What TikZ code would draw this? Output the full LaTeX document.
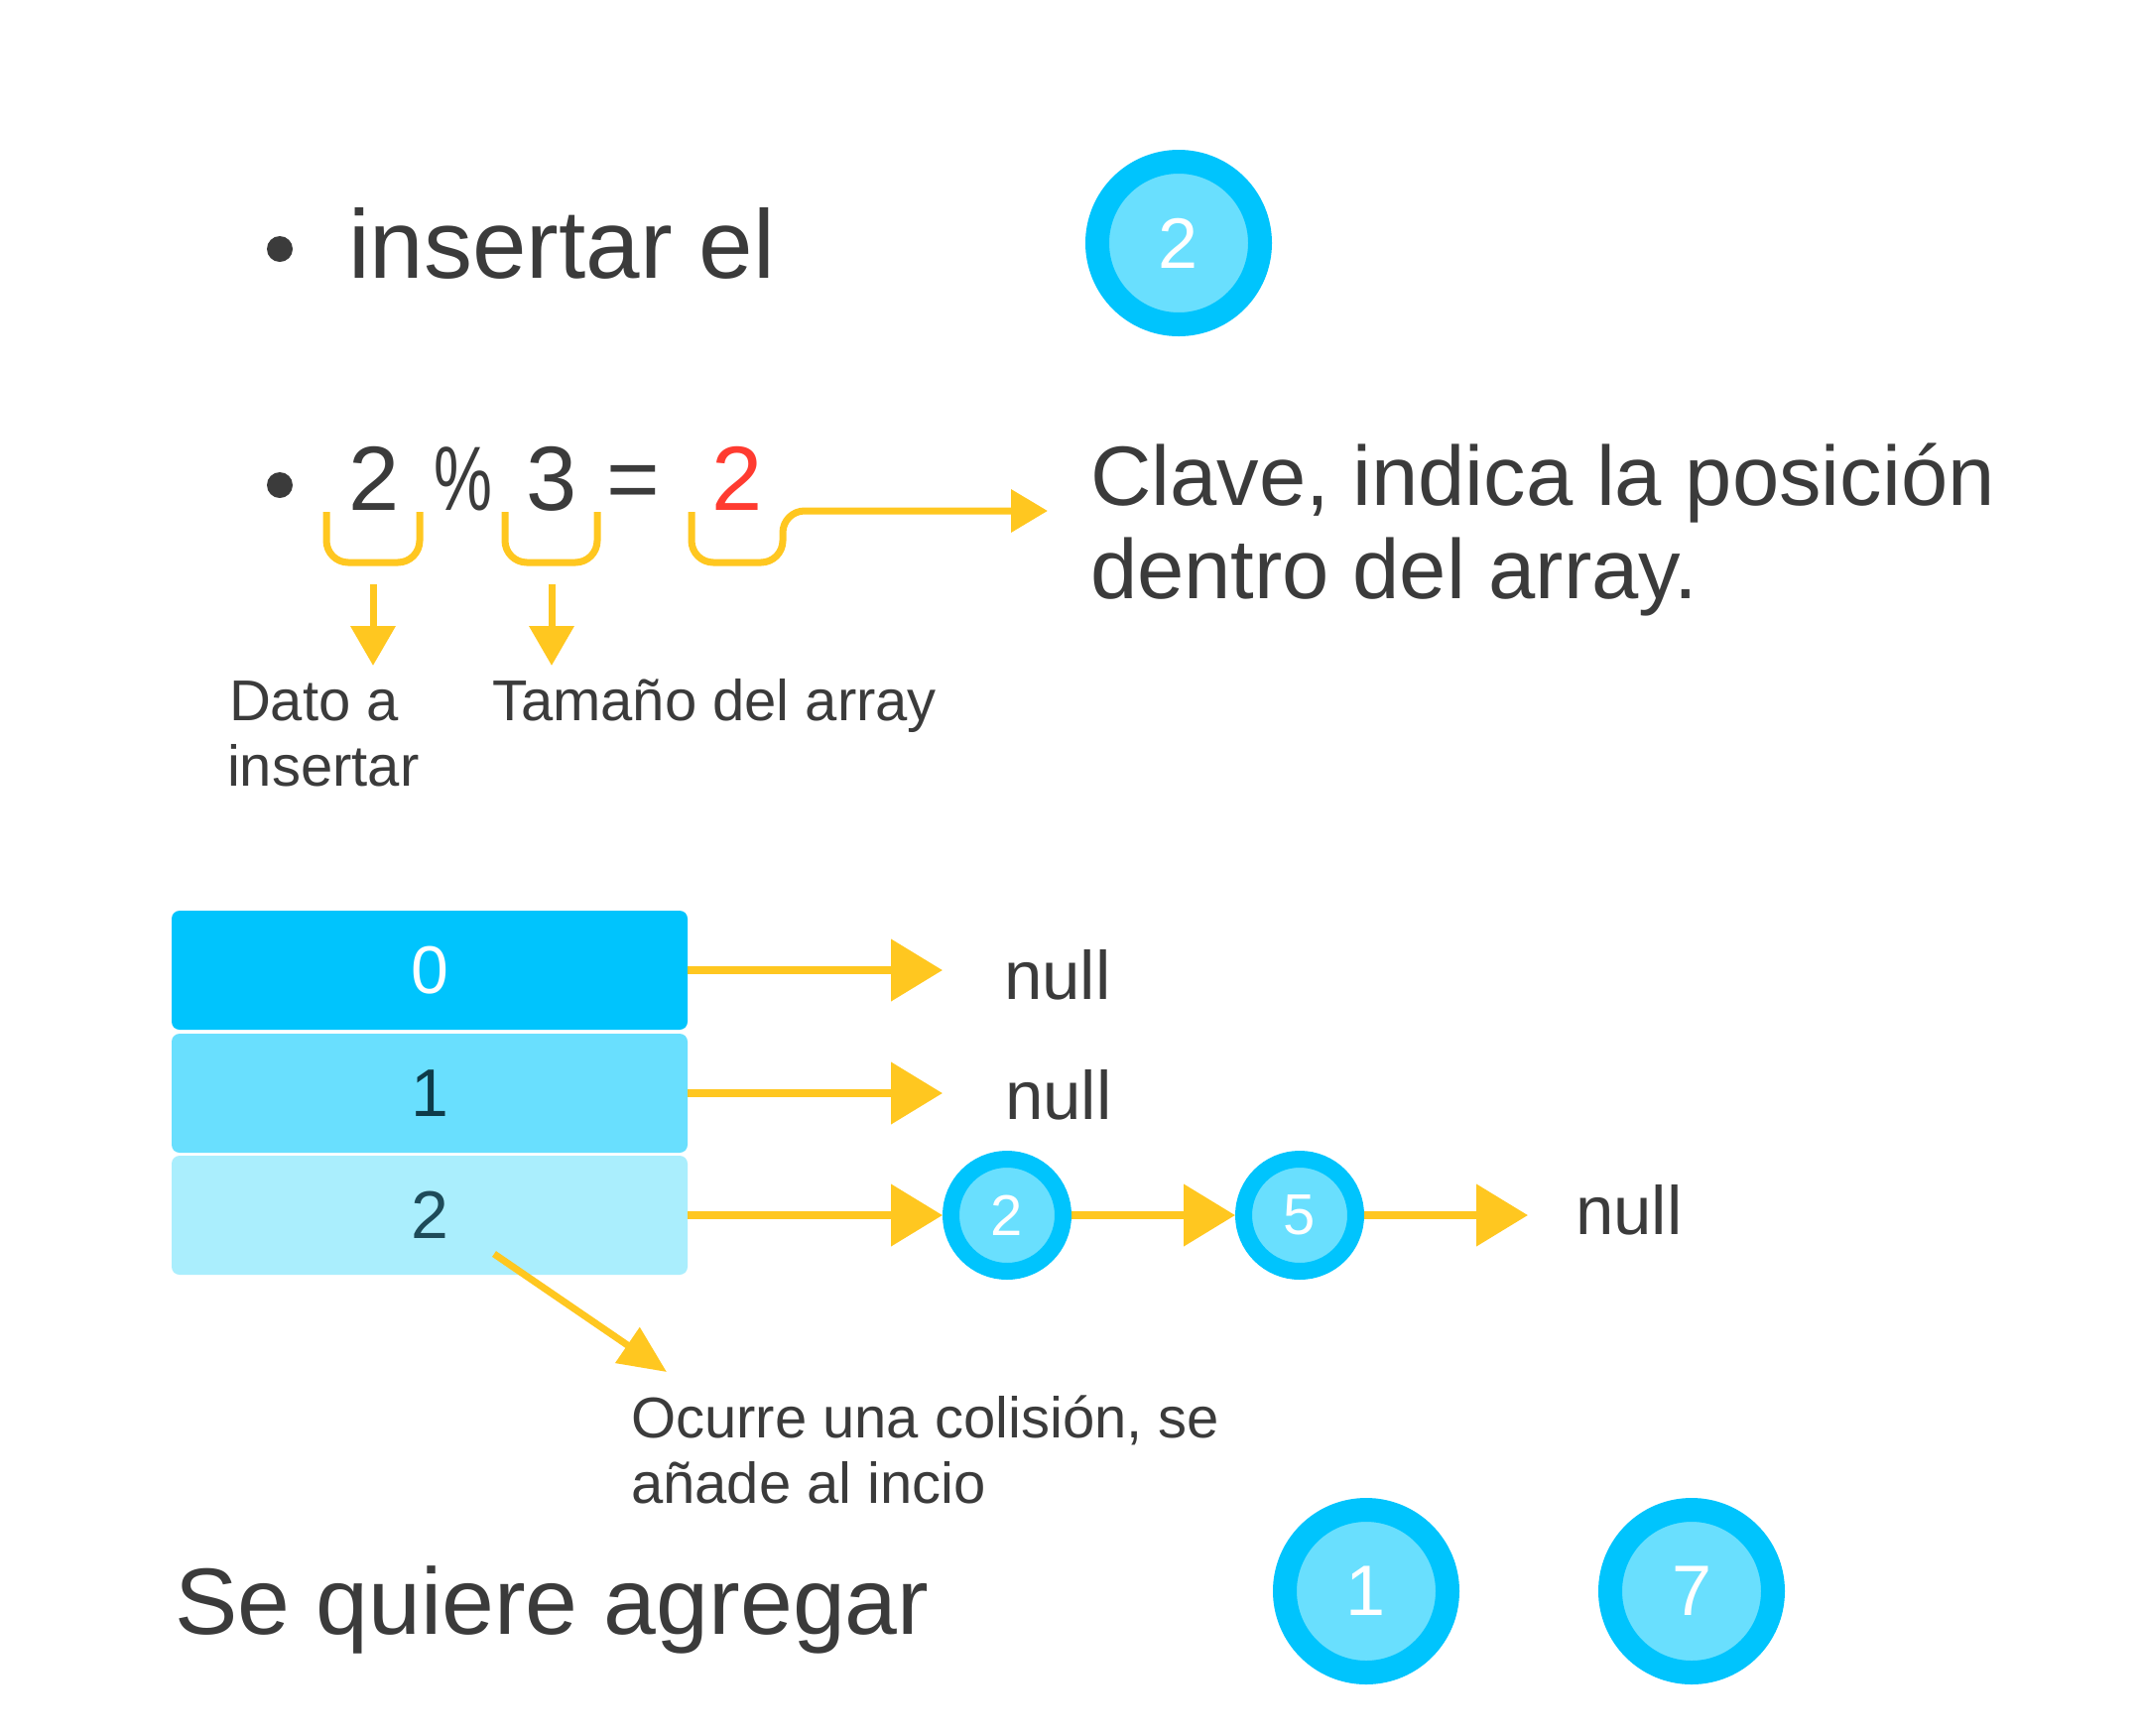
\documentclass[tikz,border=0pt]{standalone}
\usepackage{fontspec}
\setmainfont{Liberation Sans}
\usetikzlibrary{arrows.meta}
\definecolor{txt}{HTML}{3B3B3B}
\definecolor{ylw}{HTML}{FFC720}
\definecolor{cyanA}{HTML}{00C4FD}
\definecolor{cyanB}{HTML}{69DFFE}
\definecolor{cyanC}{HTML}{AAEEFD}
\definecolor{redk}{HTML}{FF3B30}
\definecolor{tealA}{HTML}{0E3B49}
\definecolor{tealB}{HTML}{1E4B59}
\newcommand\myfs[1]{\fontsize{#1pt}{#1pt}\selectfont}
\begin{document}
\begin{tikzpicture}[x=1pt,y=-1pt,
  lbl/.style={anchor=base west, inner sep=0pt, outer sep=0pt, text=txt},
  eqn/.style={anchor=base, inner sep=0pt, text=txt, font=\myfs{92}},
  bigc/.style={circle, fill=cyanB, draw=cyanA, line width=24pt, minimum size=164pt, inner sep=0pt, text=white, font=\myfs{72}},
  smc/.style={circle, fill=cyanB, draw=cyanA, line width=17pt, minimum size=113pt, inner sep=0pt, text=white, font=\myfs{58}},
  cell/.style={rectangle, rounded corners=8pt, minimum width=520pt, minimum height=120pt, inner sep=0pt, font=\myfs{68}},
  rowarr/.style={draw=ylw, line width=8pt, -{Triangle[length=52pt,width=61pt]}},
  thinarr/.style={draw=ylw, line width=7pt, -{Triangle[length=40pt,width=44pt]}},
  bracepath/.style={draw=ylw, line width=7pt, rounded corners=22pt},
  bul/.style={circle, fill=txt, minimum size=26pt, inner sep=0pt}
]
\useasboundingbox[fill=white] (0,0) rectangle (2159,1749);

% first bullet line
\node[bul] (bul1) at (282,251) {};
\node[lbl, font=\myfs{98}] (ins) at (351,280) {insertar el};
\node[bigc] (ctop) at (1188,245) {2};

% second bullet line: equation
\node[bul] (bul2) at (282,489) {};
\node[eqn] (e1) at (377,514) {2};
\node[eqn] (e2) at (467,514) {\scalebox{0.72}[1]{\%}};
\node[eqn] (e3) at (556,514) {3};
\node[eqn] (e4) at (638,514) {=};
\node[eqn, text=redk] (e5) at (743,514) {2};

% braces
\draw[bracepath] (329,516) -- (329,567) -- (423,567) -- (423,516);
\draw[bracepath] (509,516) -- (509,567) -- (602,567) -- (602,516);
\coordinate (clavept) at (1056,515);
\draw[bracepath, -{Triangle[length=37pt,width=42pt]}] (697,516) -- (697,567) -- (789,567) -- (789,515) -- (clavept);

% down arrows
\coordinate (d1s) at (376,589);
\coordinate (d1e) at (376,671);
\coordinate (d2s) at (556,589);
\coordinate (d2e) at (556,671);
\draw[thinarr] (d1s) -- (d1e);
\draw[thinarr] (d2s) -- (d2e);

% labels
\node[lbl, font=\myfs{58}] (dato1) at (231,726) {Dato a};
\node[lbl, font=\myfs{58}] (dato2) at (229,792) {insertar};
\node[lbl, font=\myfs{58}] (tam) at (496,726) {Tamaño del array};
\node[lbl, font=\myfs{85}] (clave1) at (1099,509) {Clave, indica la posición};
\node[lbl, font=\myfs{85}] (clave2) at (1099,603) {dentro del array.};

% array
\node[cell, fill=cyanA, text=white] (b0) at (433,978) {0};
\node[cell, fill=cyanB, text=tealA] (b1) at (433,1102) {1};
\node[cell, fill=cyanC, text=tealB] (b2) at (433,1225) {2};

\coordinate (t0) at (950,978);
\coordinate (t1) at (950,1102);
\draw[rowarr] (b0.east) -- (t0);
\draw[rowarr] (b1.east) -- (t1);
\node[lbl, font=\myfs{69}] (n0) at (1012,1007) {null};
\node[lbl, font=\myfs{69}] (n1) at (1013,1128) {null};

\node[smc] (c2) at (1015,1225) {2};
\node[smc] (c5) at (1310,1225) {5};
\coordinate (t2) at (1540,1225);
\draw[rowarr] (b2.east) -- (c2.west);
\draw[rowarr] (c2.east) -- (c5.west);
\draw[rowarr] (c5.east) -- (t2);
\node[lbl, font=\myfs{69}] (n2) at (1588,1244) {null};

% collision arrow
\coordinate (colS) at (498,1264);
\coordinate (colE) at (672,1383);
\draw[thinarr, -{Triangle[length=48pt,width=42pt]}] (colS) -- (colE);
\node[lbl, font=\myfs{58}] (oc1) at (636,1449) {Ocurre una colisión, se};
\node[lbl, font=\myfs{58}] (oc2) at (636,1515) {añade al incio};

% bottom
\node[lbl, font=\myfs{95}] (sq) at (176,1647) {Se quiere agregar};
\node[bigc] (c1) at (1377,1604) {1};
\node[bigc] (c7) at (1705,1604) {7};
\end{tikzpicture}
\end{document}
